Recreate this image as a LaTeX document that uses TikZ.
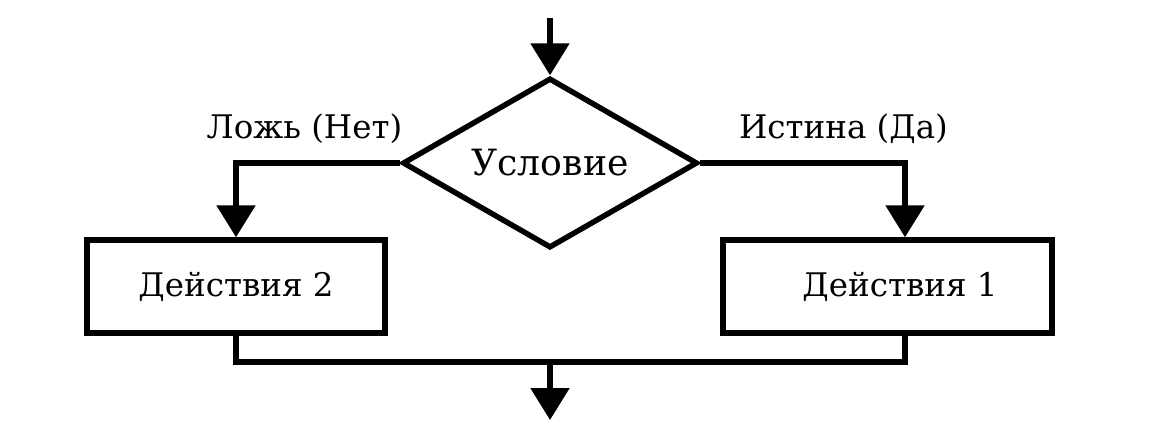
\documentclass[tikz,border=0pt]{standalone}
\usepackage{fontspec}
\setmainfont{DejaVu Serif}
\usetikzlibrary{positioning,arrows.meta,shapes.geometric,calc}

\begin{document}
\begin{tikzpicture}[
  >={Triangle[width=0.76cm, length=0.64cm]},
  line width=3.1pt,
  cond/.style={draw, diamond, aspect=1.74, inner sep=0pt, minimum width=5.9cm, minimum height=3.4cm, font=\fontsize{20.6}{24}\selectfont},
  action/.style={draw, rectangle, minimum height=1.86cm, align=center, font=\fontsize{18.5}{22}\selectfont},
  lbl/.style={anchor=base, font=\fontsize{18.5}{22}\selectfont},
  arr/.style={->},
]
\useasboundingbox (0,0) rectangle (23.1,-8.88);

% Condition
\coordinate (in) at (11.0,-0.36);
\node[cond] (test) at (11.0,-3.26) {Условие};

% Actions
\node[action, minimum width=5.96cm] (act2) at (4.72,-5.73) {Действия 2};
\node[action, minimum width=6.58cm] (act1) at (17.75,-5.73) {\hspace*{0.5cm}Действия 1};

% Branch labels
\node[lbl] (no) at (6.09,-2.76) {Ложь (Нет)};
\node[lbl] (yes) at (16.87,-2.76) {Истина (Да)};

% Join point and exit
\coordinate (join) at (11.0,-7.24);
\coordinate (out) at (11.0,-8.4);

% Arrows
\draw[arr] (in) -- (test.north);
\draw[arr] (test.west) -| (act2.north);
\draw[arr] (test.east) -| ([xshift=0.35cm]act1.north);
\draw (act2.south) |- (join) -| ([xshift=0.35cm]act1.south);
\draw[arr] (join) -- (out);

\end{tikzpicture}
\end{document}
